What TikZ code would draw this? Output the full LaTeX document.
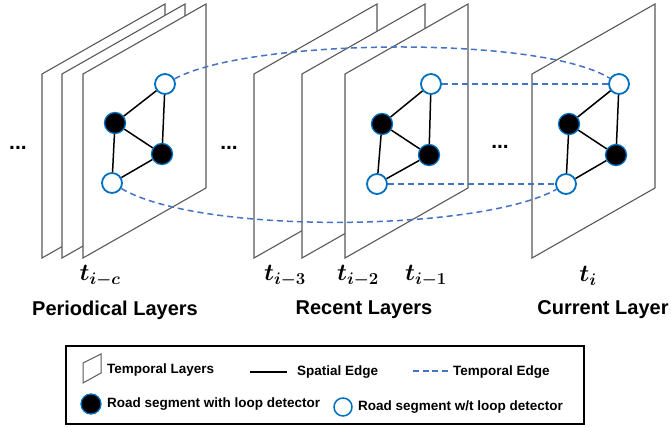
\documentclass[tikz,border=0pt]{standalone}
\usepackage{fix-cm}
\usepackage{amsmath}
\usepackage{bm}
\usepackage{fontspec}
\setmainfont{Liberation Sans}
\definecolor{layergray}{HTML}{595959}
\definecolor{nodeblue}{HTML}{0070C0}
\definecolor{dashblue}{HTML}{4472C4}
\tikzset{
  layer/.style={draw=layergray, line width=1.1pt, fill=white},
  nodoc/.style={circle, draw=nodeblue, line width=1.8pt, fill=white, minimum size=20pt, inner sep=0pt},
  withloop/.style={circle, draw=nodeblue, line width=1.3pt, fill=black, minimum size=21pt, inner sep=0pt},
  spatial/.style={draw=black, line width=1.5pt},
  temporal/.style={draw=dashblue, line width=1.5pt, dash pattern=on 6pt off 4pt},
  grouplabel/.style={font=\fontsize{20}{24}\selectfont\bfseries},
  timelabel/.style={font=\fontsize{24}{28}\selectfont},
  legendtext/.style={font=\fontsize{13.5}{16}\selectfont\bfseries, anchor=west, inner sep=0pt},
  dots/.style={font=\fontsize{21}{24}\selectfont\bfseries}
}
% one temporal layer: a sheet seen in perspective, given by its top-left corner
\newcommand{\sheet}[2]{\draw[layer] (#1,#2) -- (#1+123,#2-70) -- (#1+123,#2+114) -- (#1,#2+184) -- cycle;}
% the small road graph drawn on a layer
\newcommand{\roadgraph}[9]{%
  \node[nodoc]   (#1a) at (#2,#3) {};
  \node[withloop](#1b) at (#4,#5) {};
  \node[withloop](#1c) at (#6,#7) {};
  \node[nodoc]   (#1d) at (#8,#9) {};
  \draw[spatial] (#1a) -- (#1b) (#1a) -- (#1c) (#1b) -- (#1c) (#1b) -- (#1d) (#1c) -- (#1d);
}
\begin{document}
\begin{tikzpicture}[x=1pt,y=-1pt]
\useasboundingbox (0,0) rectangle (671,427);

% periodical layers
\sheet{42}{74}
\sheet{62}{74}
\sheet{83}{74}
\roadgraph{p}{165}{84}{115}{123}{162}{154}{112}{183}

% recent layers
\sheet{254}{74}
\sheet{302}{74}
\sheet{345}{74}
\roadgraph{r}{431}{84}{382}{124}{429}{155}{377}{184}

% current layer
\sheet{532}{74}
\roadgraph{c}{619}{84}{569}{124}{616}{155}{566}{184}

% temporal edges
\draw[temporal] (pa) .. controls (250,38) and (540,35) .. (ca);
\draw[temporal] (pd) .. controls (200,235) and (480,232) .. (cd);
\draw[temporal] (ra) -- (ca);
\draw[temporal] (rd) -- (cd);

% ellipses between groups
\node[dots] (d1) at (18,148) {...};
\node[dots] (d2) at (229,148) {...};
\node[dots] (d3) at (500,147) {...};

% time stamps
\node[timelabel] (t1) at (100,276) {$\bm{t_{i-c}}$};
\node[timelabel] (t2) at (285,276) {$\bm{t_{i-3}}$};
\node[timelabel] (t3) at (358,276) {$\bm{t_{i-2}}$};
\node[timelabel] (t4) at (426,276) {$\bm{t_{i-1}}$};
\node[timelabel] (t5) at (588,276) {$\bm{t_{i}}$};

% group names
\node[grouplabel] (g1) at (115,310) {Periodical Layers};
\node[grouplabel] (g2) at (364,310) {Recent Layers};
\node[grouplabel] (g3) at (603,310) {Current Layer};

% legend
\draw[line width=2pt] (66,346) rectangle (584,424);
\draw[draw=layergray, line width=1pt] (83,363) -- (101,354) -- (101,373) -- (83,383) -- cycle;
\node[legendtext] (l1) at (107,370) {Temporal Layers};
\coordinate (s0) at (250,372);
\coordinate (s1) at (287,372);
\draw[line width=1.4pt] (s0) -- (s1);
\node[legendtext] (l2) at (297,372) {Spatial Edge};
\coordinate (e0) at (413,371);
\coordinate (e1) at (451,371);
\draw[draw=dashblue, line width=1.4pt, dash pattern=on 6pt off 3.5pt] (e0) -- (e1);
\node[legendtext] (l3) at (453,372) {Temporal Edge};
\node[withloop, minimum size=20pt] (l4) at (91,404) {};
\node[legendtext] (l5) at (107,404) {Road segment with loop detector};
\node[nodoc, minimum size=18pt, line width=1.5pt] (l6) at (343,407) {};
\node[legendtext] (l7) at (358,407) {Road segment w/t loop detector};
\end{tikzpicture}
\end{document}
